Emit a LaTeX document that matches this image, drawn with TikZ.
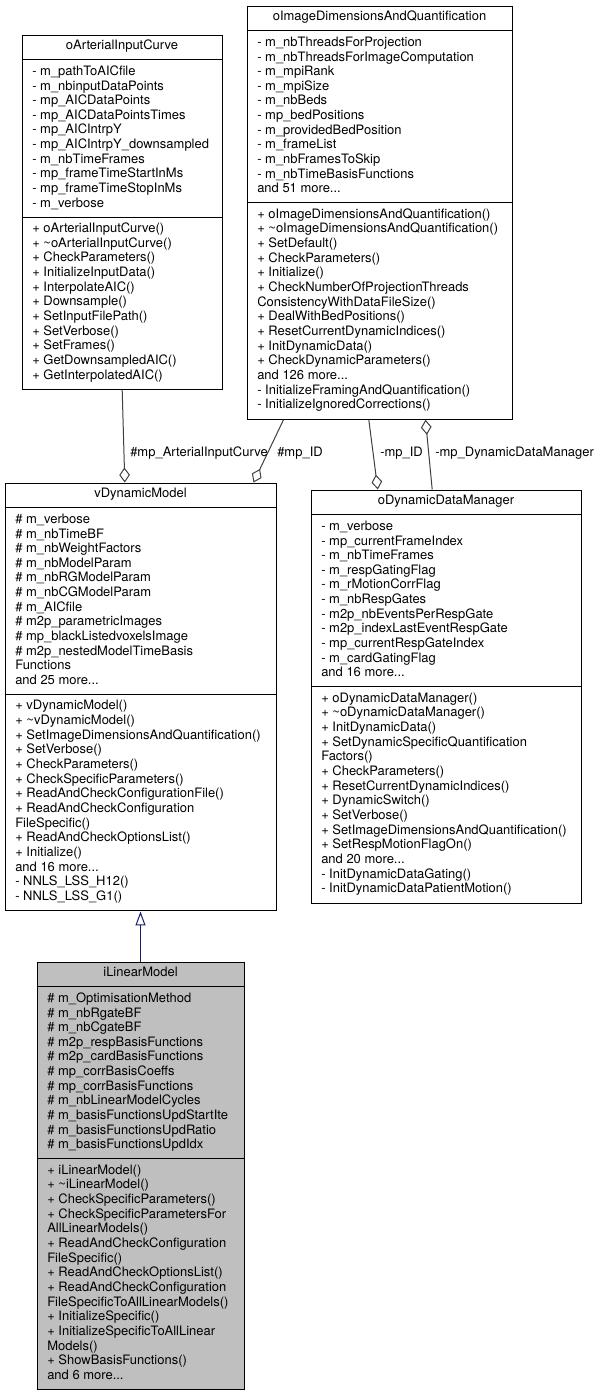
\documentclass[tikz,border=0pt]{standalone}
\usepackage{fontspec}
\setmainfont{TeX Gyre Heros}
\usetikzlibrary{arrows.meta,calc,fit}
\definecolor{edgegray}{HTML}{404040}
\definecolor{inhblue}{HTML}{191970}
\definecolor{fillgray}{HTML}{BFBFBF}
\newcommand\umlfont{\fontsize{9.73pt}{11pt}\selectfont}
\newcommand\mydots{...}
\newcommand\umllines[4]{%
  \foreach \t [count=\k from 0] in {#4} {
    \node[memb] (#1-\k) at ($(#2)+(10.5,#3+15.4+\k*14.65)$) {\t};
  }%
}
\newcommand\umlsep[2]{\draw[boxline] ($(#1.north west)+(0,#2)$) -- ($(#1.north east)+(0,#2)$);}
\begin{document}
\begin{tikzpicture}[x=0.75pt,y=-0.75pt,
  umlbox/.style={draw=black, line width=0.75pt, inner sep=0pt, fill=white},
  boxline/.style={draw=black, line width=0.75pt},
  memb/.style={anchor=base west, inner sep=0pt, font=\umlfont},
  ttl/.style={anchor=base, inner sep=0pt, font=\umlfont},
  lbl/.style={anchor=base west, inner sep=0pt, font=\umlfont},
  uses/.style={draw=edgegray, line width=0.75pt, -{Diamond[open,length=11.25pt,width=8pt]}},
  inherit/.style={draw=inhblue, line width=0.75pt, -{Triangle[open,length=10.5pt,width=7.5pt]}},
]
\fill[white] (0,0) rectangle (598,1396);

% ---------- oArterialInputCurve ----------
\node[umlbox, fit={(22,35) (222,389.7)}] (aic) {};
\node[ttl] (aic-t) at ($(aic.north)+(0,15.4)$) {oArterialInputCurve};
\umlsep{aic}{25.45}
\umlsep{aic}{182.75}
\umllines{aic-a}{aic.north west}{25.45}{- m\_pathToAICfile, - m\_nbinputDataPoints, - mp\_AICDataPoints, - mp\_AICDataPointsTimes, - mp\_AICIntrpY, - mp\_AICIntrpY\_downsampled, - m\_nbTimeFrames, - mp\_frameTimeStartInMs, - mp\_frameTimeStopInMs, - m\_verbose}
\umllines{aic-m}{aic.north west}{182.75}{+ oArterialInputCurve(), + \textasciitilde oArterialInputCurve(), + CheckParameters(), + InitializeInputData(), + InterpolateAIC(), + Downsample(), + SetInputFilePath(), + SetVerbose(), + SetFrames(), + GetDownsampledAIC(), + GetInterpolatedAIC()}

% ---------- oImageDimensionsAndQuantification ----------
\node[umlbox, fit={(247,6) (512,419.3)}] (oidq) {};
\node[ttl] (oidq-t) at ($(oidq.north)+(0,15.4)$) {oImageDimensionsAndQuantification};
\umlsep{oidq}{25.45}
\umlsep{oidq}{197.4}
\umllines{oidq-a}{oidq.north west}{25.45}{- m\_nbThreadsForProjection, - m\_nbThreadsForImageComputation, - m\_mpiRank, - m\_mpiSize, - m\_nbBeds, - mp\_bedPositions, - m\_providedBedPosition, - m\_frameList, - m\_nbFramesToSkip, - m\_nbTimeBasisFunctions, and 51 more\mydots}
\umllines{oidq-m}{oidq.north west}{197.4}{+ oImageDimensionsAndQuantification(), + \textasciitilde oImageDimensionsAndQuantification(), + SetDefault(), + CheckParameters(), + Initialize(), + CheckNumberOfProjectionThreads, ConsistencyWithDataFileSize(), + DealWithBedPositions(), + ResetCurrentDynamicIndices(), + InitDynamicData(), + CheckDynamicParameters(), and 126 more\mydots, - InitializeFramingAndQuantification(), - InitializeIgnoredCorrections()}

% ---------- vDynamicModel ----------
\node[umlbox, fit={(5,483) (276,910.95)}] (vdm) {};
\node[ttl] (vdm-t) at ($(vdm.north)+(0,15.4)$) {vDynamicModel};
\umlsep{vdm}{25.45}
\umlsep{vdm}{212.05}
\umllines{vdm-a}{vdm.north west}{25.45}{\# m\_verbose, \# m\_nbTimeBF, \# m\_nbWeightFactors, \# m\_nbModelParam, \# m\_nbRGModelParam, \# m\_nbCGModelParam, \# m\_AICfile, \# m2p\_parametricImages, \# mp\_blackListedvoxelsImage, \# m2p\_nestedModelTimeBasis, Functions, and 25 more\mydots}
\umllines{vdm-m}{vdm.north west}{212.05}{+ vDynamicModel(), + \textasciitilde vDynamicModel(), + SetImageDimensionsAndQuantification(), + SetVerbose(), + CheckParameters(), + CheckSpecificParameters(), + ReadAndCheckConfigurationFile(), + ReadAndCheckConfiguration, FileSpecific(), + ReadAndCheckOptionsList(), + Initialize(), and 16 more\mydots, - NNLS\_LSS\_H12(), - NNLS\_LSS\_G1()}

% ---------- oDynamicDataManager ----------
\node[umlbox, fit={(311,490) (581,903.3)}] (oddm) {};
\node[ttl] (oddm-t) at ($(oddm.north)+(0,15.4)$) {oDynamicDataManager};
\umlsep{oddm}{25.45}
\umlsep{oddm}{197.4}
\umllines{oddm-a}{oddm.north west}{25.45}{- m\_verbose, - mp\_currentFrameIndex, - m\_nbTimeFrames, - m\_respGatingFlag, - m\_rMotionCorrFlag, - m\_nbRespGates, - m2p\_nbEventsPerRespGate, - m2p\_indexLastEventRespGate, - mp\_currentRespGateIndex, - m\_cardGatingFlag, and 16 more\mydots}
\umllines{oddm-m}{oddm.north west}{197.4}{+ oDynamicDataManager(), + \textasciitilde oDynamicDataManager(), + InitDynamicData(), + SetDynamicSpecificQuantification, Factors(), + CheckParameters(), + ResetCurrentDynamicIndices(), + DynamicSwitch(), + SetVerbose(), + SetImageDimensionsAndQuantification(), + SetRespMotionFlagOn(), and 20 more\mydots, - InitDynamicDataGating(), - InitDynamicDataPatientMotion()}

% ---------- iLinearModel ----------
\node[umlbox, fill=fillgray, fit={(37,962) (244,1389.95)}] (ilm) {};
\node[ttl] (ilm-t) at ($(ilm.north)+(0,15.4)$) {iLinearModel};
\umlsep{ilm}{25.45}
\umlsep{ilm}{197.4}
\umllines{ilm-a}{ilm.north west}{25.45}{\# m\_OptimisationMethod, \# m\_nbRgateBF, \# m\_nbCgateBF, \# m2p\_respBasisFunctions, \# m2p\_cardBasisFunctions, \# mp\_corrBasisCoeffs, \# mp\_corrBasisFunctions, \# m\_nbLinearModelCycles, \# m\_basisFunctionsUpdStartIte, \# m\_basisFunctionsUpdRatio, \# m\_basisFunctionsUpdIdx}
\umllines{ilm-m}{ilm.north west}{197.4}{+ iLinearModel(), + \textasciitilde iLinearModel(), + CheckSpecificParameters(), + CheckSpecificParametersFor, AllLinearModels(), + ReadAndCheckConfiguration, FileSpecific(), + ReadAndCheckOptionsList(), + ReadAndCheckConfiguration, FileSpecificToAllLinearModels(), + InitializeSpecific(), + InitializeSpecificToAllLinear, Models(), + ShowBasisFunctions(), and 6 more\mydots}

% ---------- connectors ----------
\coordinate (e1s) at ($(aic.south west)+(100.7,0)$);
\coordinate (e1t) at ($(vdm.north west)+(120.3,0)$);
\coordinate (e2s) at ($(oidq.south west)+(37,0)$);
\coordinate (e2t) at ($(vdm.north west)+(249,0)$);
\coordinate (e3s) at ($(oidq.south west)+(122.3,0)$);
\coordinate (e3t) at ($(oddm.north west)+(67.3,0)$);
\coordinate (e4s) at ($(oddm.north west)+(121.7,0)$);
\coordinate (e4t) at ($(oidq.south west)+(179,0)$);

\draw[uses] (e1s) -- (e1t);
\draw[uses] (e2s) -- (e2t);
\draw[uses] (e3s) -- (e3t);
\draw[uses] (e4s) -- (e4t);
\draw[inherit] (ilm.north) -- (vdm.south);

\node[lbl] (l1) at (130,456.5) {\#mp\_ArterialInputCurve};
\node[lbl] (l2) at (277,456.5) {\#mp\_ID};
\node[lbl] (l3) at (380,456.5) {-mp\_ID};
\node[lbl] (l4) at (435,456.5) {-mp\_DynamicDataManager};
\end{tikzpicture}
\end{document}
